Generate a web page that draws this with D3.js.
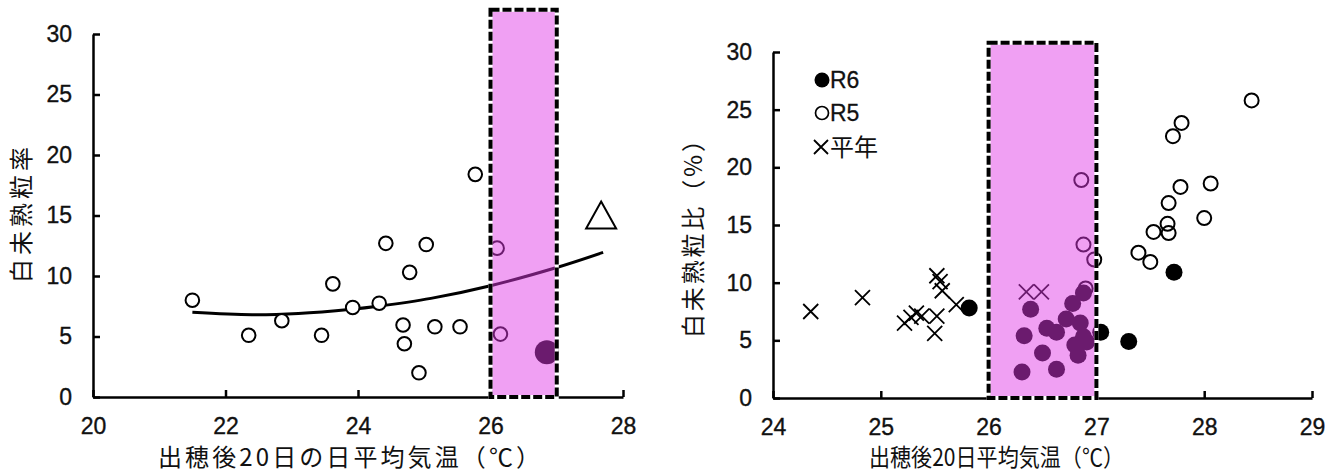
<!DOCTYPE html>
<html><head><meta charset="utf-8">
<script src="https://cdn.jsdelivr.net/npm/d3@7"></script>
<style>
body{margin:0;background:#fff;}
svg{display:block;}
.tick text{font-family:"Liberation Sans",Arial,sans-serif;font-size:23px;fill:#111;stroke:#111;stroke-width:0.35px;}
.jp{font-family:"Noto Sans CJK JP","Noto Sans",sans-serif;fill:#111;}
</style></head>
<body>
<svg id="c" width="1333" height="475"></svg>
<script>
// ---------- Left chart data ----------
const leftTicksX = [20, 22, 24, 26, 28];
const leftTicksY = [0, 5, 10, 15, 20, 25, 30];
const leftOpenX = [21.5, 22.35, 22.85, 23.45, 23.62, 23.92, 24.32, 24.42, 24.78, 24.68, 24.7, 24.92, 25.03, 25.16, 25.54, 25.77, 26.1, 26.15];
const leftOpenY = [8.0, 5.1, 6.3, 5.1, 9.35, 7.4, 7.75, 12.7, 10.3, 5.95, 4.4, 2.0, 12.6, 5.8, 5.8, 18.4, 12.3, 5.2];
const leftFilledX = [26.85];
const leftFilledY = [3.7];
const leftTriX = [27.67];
const leftTriY = [15.0];
const curveX = [21.5, 22.4, 23.1, 23.9, 24.3, 25.1, 26.0, 27.0, 27.7];
const curveY = [7.0, 6.8, 6.9, 7.25, 7.5, 8.15, 9.2, 10.7, 11.95];
const leftBand = [26, 27, 32];

// ---------- Right chart data ----------
const rightTicksX = [24, 25, 26, 27, 28, 29];
const rightTicksY = [0, 5, 10, 15, 20, 25, 30];
const r6X = [25.82, 27.04, 27.3, 27.72, 26.39, 26.33, 26.31, 26.5, 26.63, 26.54, 26.63, 26.72, 26.78, 26.88, 26.85, 26.88, 26.8, 26.83, 26.91];
const r6Y = [7.8, 5.7, 4.9, 10.9, 7.7, 5.4, 2.25, 3.9, 2.5, 6.05, 5.7, 6.85, 8.2, 9.1, 6.5, 5.3, 4.6, 3.7, 4.85];
const r5X = [26.86, 26.88, 26.98, 26.9, 28.44, 27.79, 27.71, 27.78, 28.06, 27.67, 28.0, 27.66, 27.53, 27.67, 27.39, 27.5];
const r5Y = [18.9, 13.3, 12.0, 9.5, 25.8, 23.85, 22.7, 18.3, 18.6, 16.9, 15.6, 15.1, 14.4, 14.3, 12.6, 11.8];
const normX = [24.35, 24.83, 25.22, 25.28, 25.33, 25.38, 25.52, 25.55, 25.57, 25.52, 25.50, 25.70, 26.35, 26.49];
const normY = [7.5, 8.7, 6.5, 7.0, 7.35, 7.1, 10.6, 10.1, 9.3, 7.1, 5.6, 8.1, 9.2, 9.2];
const rightBand = [26, 27, 30.8];
const legendLabels = ["R6", "R5", "平年"];

const svg = d3.select("#c");
const bandFill = "rgb(224,56,230)", bandOpacity = 0.48;

function axes(g, x, y, tx, ty) {
  const ax = g.append("g").attr("transform", `translate(0,${y.range()[0]})`)
    .call(d3.axisBottom(x).tickValues(tx).tickFormat(d3.format("d")).tickSizeInner(-7).tickSizeOuter(0).tickPadding(21));
  const ay = g.append("g").attr("transform", `translate(${x.range()[0]},0)`)
    .call(d3.axisLeft(y).tickValues(ty).tickFormat(d3.format("d")).tickSizeInner(-7).tickSizeOuter(0).tickPadding(21));
  [ax, ay].forEach(a => { a.selectAll("path,line").attr("stroke", "#000").attr("stroke-width", 2.5); });
}

function band(g, x, y, b) {
  const x0 = x(b[0]), x1 = x(b[1]), y0 = y(b[2]), y1 = y(0);
  g.append("rect").attr("x", x0).attr("y", y0).attr("width", x1 - x0).attr("height", y1 - y0)
    .attr("fill", bandFill).attr("fill-opacity", bandOpacity);
  g.append("rect").attr("x", x0).attr("y", y0).attr("width", x1 - x0).attr("height", y1 - y0)
    .attr("fill", "none").attr("stroke", "#fff").attr("stroke-width", 4);
  g.append("rect").attr("x", x0).attr("y", y0).attr("width", x1 - x0).attr("height", y1 - y0)
    .attr("fill", "none").attr("stroke", "#000").attr("stroke-width", 4).attr("stroke-dasharray", "9,3");
}

// ===== Left chart =====
{
  const g = svg.append("g");
  const x = d3.scaleLinear().domain([20, 28]).range([93, 623]);
  const y = d3.scaleLinear().domain([0, 30]).range([397, 34]);
  axes(g, x, y, leftTicksX, leftTicksY);
  const pts = curveX.map((v, i) => [v, curveY[i]]);
  g.append("path").attr("d", d3.line().x(d => x(d[0])).y(d => y(d[1])).curve(d3.curveCatmullRom)(pts))
    .attr("fill", "none").attr("stroke", "#000").attr("stroke-width", 3);
  g.selectAll(".o").data(leftOpenX).enter().append("circle")
    .attr("cx", d => x(d)).attr("cy", (d, i) => y(leftOpenY[i])).attr("r", 6.8)
    .attr("fill", "#fff").attr("stroke", "#000").attr("stroke-width", 2);
  g.selectAll(".f").data(leftFilledX).enter().append("circle")
    .attr("cx", d => x(d)).attr("cy", (d, i) => y(leftFilledY[i])).attr("r", 12).attr("fill", "#000");
  g.selectAll(".t").data(leftTriX).enter().append("path")
    .attr("transform", (d, i) => `translate(${x(d)},${y(leftTriY[i])})`)
    .attr("d", "M0,-14 L15,13 L-15,13 Z").attr("fill", "#fff").attr("stroke", "#000").attr("stroke-width", 2);
  band(g, x, y, leftBand);
  g.append("text").attr("class", "jp").attr("x", 158).attr("y", 466).attr("font-size", 24)
    .attr("textLength", 382).attr("lengthAdjust", "spacing").text("出穂後20日の日平均気温（℃）");
  g.append("text").attr("class", "jp").attr("transform", "translate(30,283) rotate(-90)").attr("font-size", 24)
    .attr("textLength", 136).attr("lengthAdjust", "spacing").text("白未熟粒率");
}

// ===== Right chart =====
{
  const g = svg.append("g");
  const x = d3.scaleLinear().domain([24, 29]).range([773, 1312]);
  const y = d3.scaleLinear().domain([0, 30]).range([398, 52]);
  axes(g, x, y, rightTicksX, rightTicksY);
  const cross = (sel, s) => sel.attr("d", `M${-s},${-s}L${s},${s}M${-s},${s}L${s},${-s}`)
    .attr("stroke", "#000").attr("stroke-width", 1.8).attr("fill", "none");
  cross(g.selectAll(".x").data(normX).enter().append("path")
    .attr("transform", (d, i) => `translate(${x(d)},${y(normY[i])})`), 7.5);
  g.selectAll(".o").data(r5X).enter().append("circle")
    .attr("cx", d => x(d)).attr("cy", (d, i) => y(r5Y[i])).attr("r", 7)
    .attr("fill", "none").attr("stroke", "#000").attr("stroke-width", 2);
  g.selectAll(".f").data(r6X).enter().append("circle")
    .attr("cx", d => x(d)).attr("cy", (d, i) => y(r6Y[i])).attr("r", 8.5).attr("fill", "#000");
  band(g, x, y, rightBand);
  // legend
  const lg = g.append("g");
  lg.append("circle").attr("cx", 822).attr("cy", 80).attr("r", 7.5).attr("fill", "#000");
  lg.append("circle").attr("cx", 822).attr("cy", 113).attr("r", 6.5).attr("fill", "none").attr("stroke", "#000").attr("stroke-width", 1.7);
  cross(lg.append("path").attr("transform", "translate(821,147)"), 7);
  const lt = "font-family:'Liberation Sans',Arial,sans-serif;font-size:23px;fill:#111;stroke:#111;stroke-width:0.3px";
  lg.append("text").attr("x", 830).attr("y", 88).attr("style", lt).text(legendLabels[0]);
  lg.append("text").attr("x", 830).attr("y", 121).attr("style", lt).text(legendLabels[1]);
  lg.append("text").attr("class", "jp").attr("x", 830).attr("y", 156).attr("font-size", 24).text(legendLabels[2]);
  g.append("text").attr("class", "jp").attr("x", 869).attr("y", 466).attr("font-size", 24)
    .attr("textLength", 255).attr("lengthAdjust", "spacingAndGlyphs").text("出穂後20日平均気温（℃）");
  g.append("text").attr("class", "jp").attr("transform", "translate(702,338) rotate(-90)").attr("font-size", 24)
    .attr("textLength", 210).attr("lengthAdjust", "spacing").text("白未熟粒比（%）");
}
</script>
</body></html>
